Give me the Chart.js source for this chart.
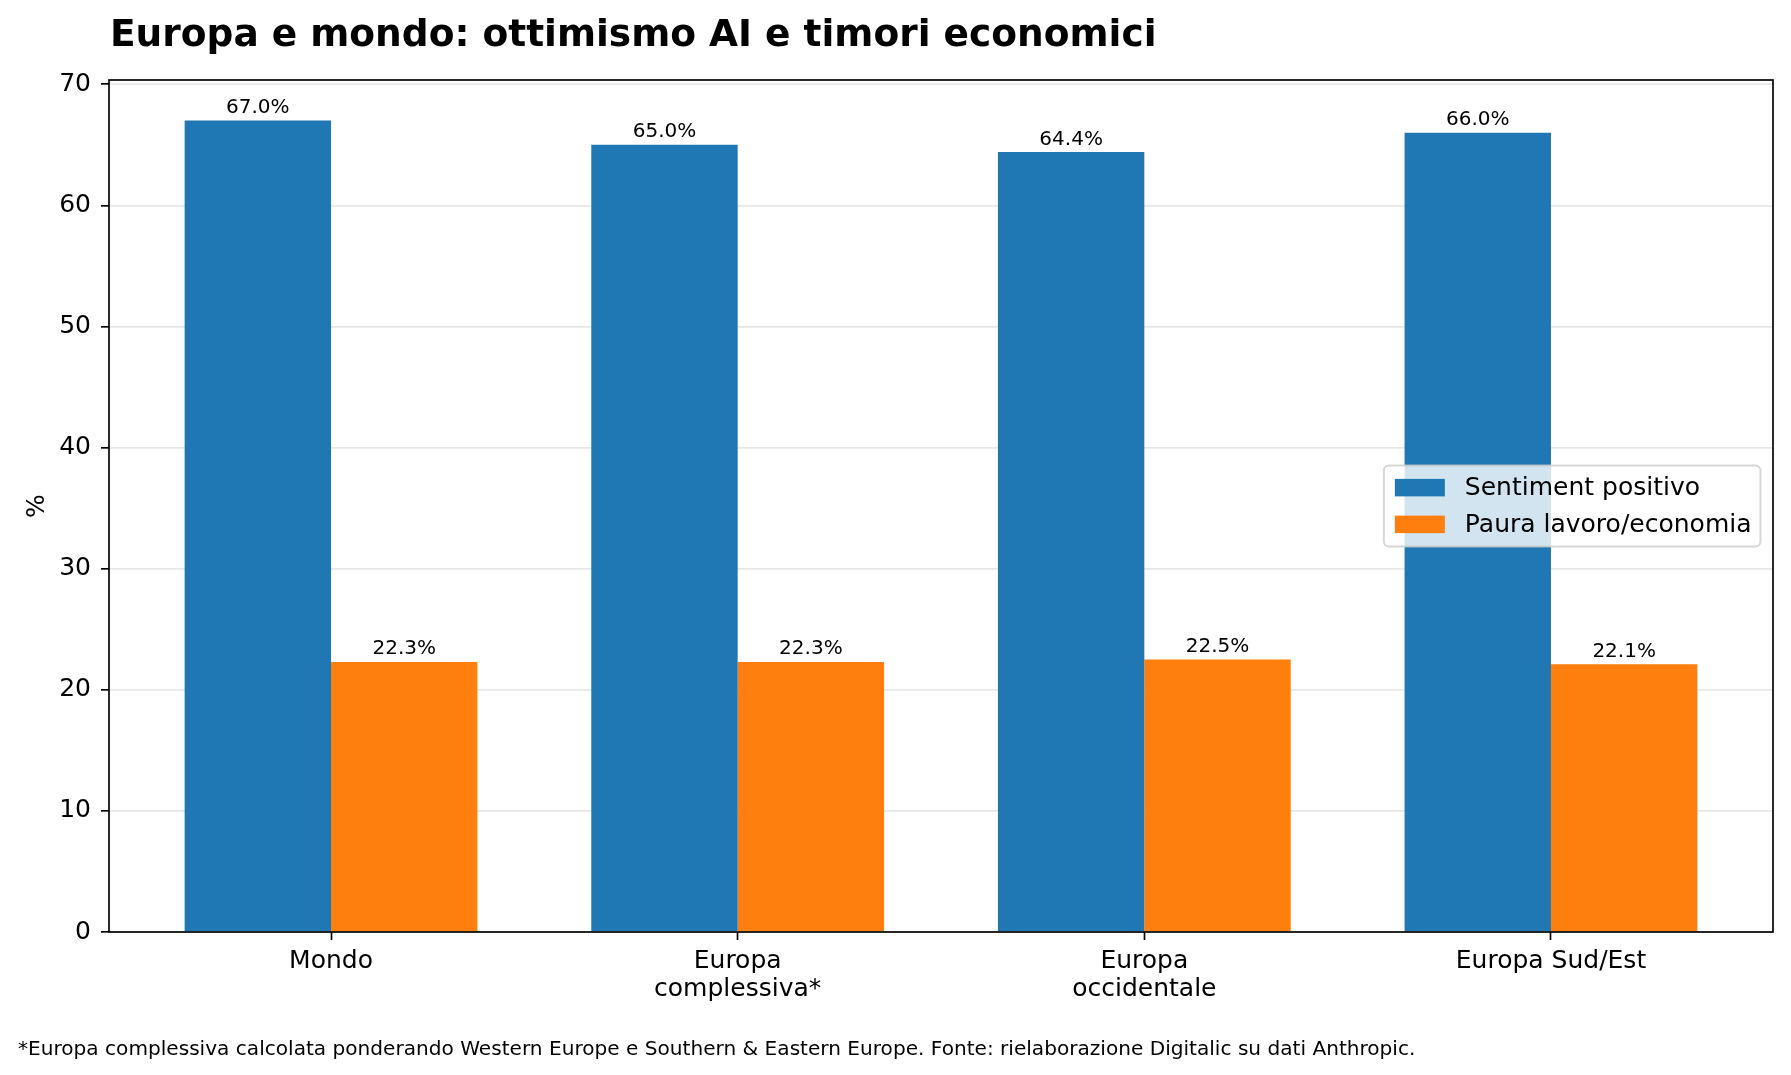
<!DOCTYPE html>
<html>
<head>
<meta charset="utf-8">
<script src="https://cdn.jsdelivr.net/npm/chart.js@4"></script>
<style>
  html, body { margin: 0; padding: 0; background: #fff; }
  #wrap { width: 1791px; height: 1075px; }
</style>
</head>
<body>
<div id="wrap"><canvas id="chart" width="1791" height="1075"></canvas></div>
<script>
// dati
const categories = ['Mondo', 'Europa complessiva*', 'Europa occidentale', 'Europa Sud/Est'];
const tickLabels = ['Mondo', ['Europa', 'complessiva*'], ['Europa', 'occidentale'], 'Europa Sud/Est'];
const sentimentPositivo = [67.0, 65.0, 64.4, 66.0];
const pauraLavoro = [22.3, 22.3, 22.5, 22.1];
const yTicks = [0, 10, 20, 30, 40, 50, 60, 70];

const seriesNames = ['Sentiment positivo', 'Paura lavoro/economia'];
const titleText = 'Europa e mondo: ottimismo AI e timori economici';
const footnote = '*Europa complessiva calcolata ponderando Western Europe e Southern & Eastern Europe. Fonte: rielaborazione Digitalic su dati Anthropic.';

const FONT = '"DejaVu Sans", sans-serif';
const BLUE = '#1f77b4';
const ORANGE = '#ff7f0e';

const toPoints = (arr) => arr.map((v, i) => ({ x: i, y: v }));

// titolo, cornice, etichette valori, legenda e nota
const decorPlugin = {
    id: 'decor',
    afterDraw(chart) {
        const { ctx, chartArea: a } = chart;
        ctx.save();

        // etichette sopra le barre
        ctx.font = `20px ${FONT}`;
        ctx.fillStyle = '#000';
        ctx.textAlign = 'center';
        ctx.textBaseline = 'alphabetic';
        chart.data.datasets.forEach((ds, di) => {
            chart.getDatasetMeta(di).data.forEach((bar, i) => {
                ctx.fillText(ds.data[i].y.toFixed(1) + '%', bar.x, bar.y - 7.5);
            });
        });

        // cornice
        ctx.strokeStyle = '#000';
        ctx.lineWidth = 1.67;
        ctx.strokeRect(a.left, a.top, a.right - a.left, a.bottom - a.top);

        // legenda (center right)
        const fs = 25;
        ctx.font = `${fs}px ${FONT}`;
        const textW = Math.max(...chart.data.datasets.map((d) => ctx.measureText(d.label).width));
        const pad = 0.4 * fs, handleW = 2 * fs, handleH = 0.7 * fs, gap = 0.8 * fs;
        const rowH = 24.25, spacing = 0.5 * fs;
        const boxW = pad + handleW + gap + textW + pad;
        const boxH = pad * 2 + rowH * 2 + spacing;
        const bx = a.right - 0.5 * fs - boxW;
        const by = (a.top + a.bottom) / 2 - boxH / 2;
        ctx.beginPath();
        ctx.roundRect(bx, by, boxW, boxH, 5);
        ctx.fillStyle = 'rgba(255,255,255,0.8)';
        ctx.fill();
        ctx.strokeStyle = 'rgba(204,204,204,0.8)';
        ctx.lineWidth = 2;
        ctx.stroke();
        ctx.textAlign = 'left';
        ctx.textBaseline = 'middle';
        chart.data.datasets.forEach((d, i) => {
            const cy = by + pad + rowH / 2 + i * (rowH + spacing);
            ctx.fillStyle = d.backgroundColor;
            ctx.fillRect(bx + pad + 1, cy - handleH / 2, handleW, handleH);
            ctx.fillStyle = '#000';
            ctx.fillText(d.label, bx + pad + handleW + gap + 1, cy + 1);
        });

        // titolo
        ctx.font = `bold 37.5px ${FONT}`;
        ctx.textAlign = 'left';
        ctx.textBaseline = 'alphabetic';
        ctx.fillStyle = '#000';
        ctx.fillText(titleText, a.left + 1, 45.5);

        // nota
        ctx.font = `20.1px ${FONT}`;
        ctx.fillText(footnote, 18, 1055);

        ctx.restore();
    },
};

new Chart(document.getElementById('chart'), {
    type: 'bar',
    data: {
        datasets: [
            { label: seriesNames[0], data: toPoints(sentimentPositivo), backgroundColor: BLUE },
            { label: seriesNames[1], data: toPoints(pauraLavoro), backgroundColor: ORANGE },
        ],
    },
    options: {
        responsive: false,
        animation: false,
        devicePixelRatio: 1,
        categoryPercentage: 0.72,
        barPercentage: 1.0,
        layout: { padding: { left: 0, right: 18, top: 80, bottom: 0 } },
        plugins: {
            legend: { display: false },
            tooltip: { enabled: false },
        },
        scales: {
            x: {
                type: 'linear',
                offset: false,
                min: -0.546,
                max: 3.546,
                afterBuildTicks: (s) => { s.ticks = categories.map((_, i) => ({ value: i })); },
                afterFit: (s) => { s.height = 143; },
                ticks: {
                    color: '#000',
                    font: { family: FONT, size: 25, lineHeight: 1.1 },
                    padding: 8,
                    maxRotation: 0,
                    autoSkip: false,
                    callback: (v) => tickLabels[v],
                },
                grid: { offset: false, drawOnChartArea: false, tickLength: 8, tickColor: '#000', tickWidth: 1.67 },
                border: { display: false },
            },
            y: {
                min: 0,
                max: 70.35,
                z: 1,
                afterBuildTicks: (s) => { s.ticks = yTicks.map((v) => ({ value: v })); },
                afterFit: (s) => { s.width = 109; },
                ticks: {
                    color: '#000',
                    font: { family: FONT, size: 25 },
                    padding: 10,
                },
                grid: {
                    color: 'rgba(176,176,176,0.3)',
                    lineWidth: 1.67,
                    tickLength: 8,
                    tickColor: '#000',
                    tickWidth: 1.67,
                },
                border: { display: false },
                title: {
                    display: true,
                    text: '%',
                    color: '#000',
                    font: { family: FONT, size: 25 },
                    padding: { top: 22, bottom: 0 },
                },
            },
        },
    },
    plugins: [decorPlugin],
});
</script>
</body>
</html>
